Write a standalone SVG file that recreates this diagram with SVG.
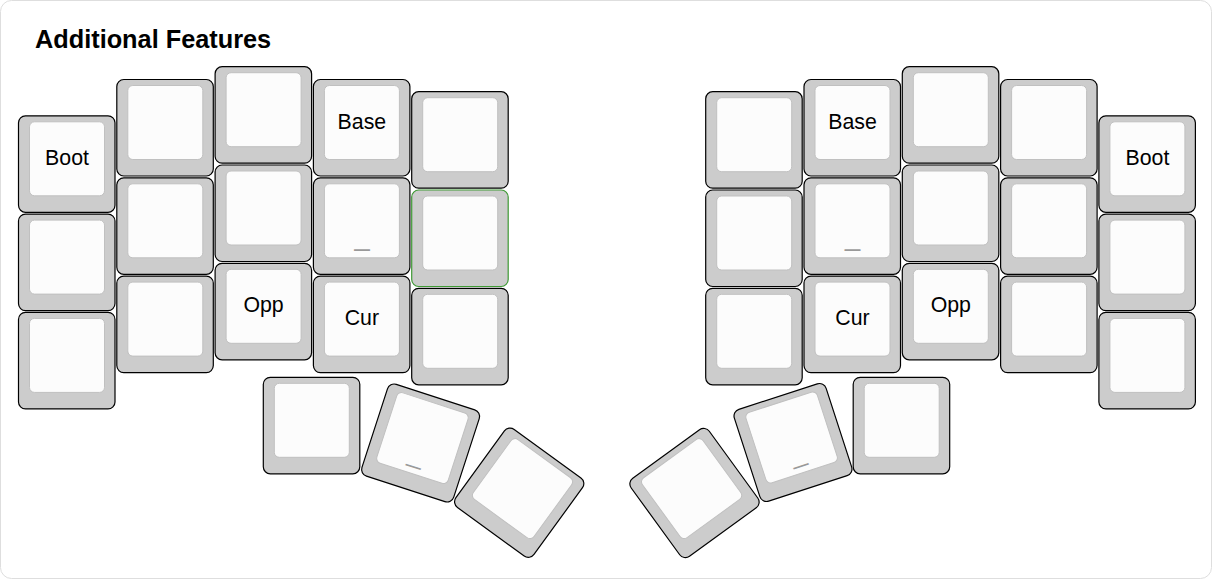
<svg xmlns="http://www.w3.org/2000/svg" width="1212" height="580" viewBox="0 0 1212 580">
<style>
.card{fill:#fff;stroke:#dedede;stroke-width:1}
.title{font-family:"Liberation Sans",Arial,Helvetica,sans-serif;font-weight:bold;font-size:25.3px;fill:#000}
.key{fill:#cccccc;stroke:#000;stroke-width:1.2}
.key.hl{stroke:#3f9a35}
.face{fill:#fcfcfc;stroke:#c0c0c0;stroke-width:1}
.lbl{font-family:"Liberation Sans",Arial,Helvetica,sans-serif;font-size:21.3px;fill:#000;text-anchor:middle}
.hold{font-family:"Liberation Sans",Arial,Helvetica,sans-serif;font-size:16px;font-weight:bold;fill:#999;text-anchor:middle}
</style>
<defs>
<rect id="kb" class="key" x="0" y="0" width="96.5" height="96.5" rx="7"/>
<rect id="kf" class="face" x="11" y="6" width="75" height="74" rx="5"/>
</defs>
<rect class="card" x="0.5" y="0.5" width="1211" height="578" rx="11"/>
<text class="title" x="35" y="48">Additional Features</text>

<g id="left-hand">
<g id="L-c0r0" transform="translate(18.5,115.8)"><use href="#kb"/><use href="#kf"/><text class="lbl" x="48.5" y="49">Boot</text></g>
<g id="L-c0r1" transform="translate(18.5,214.1)"><use href="#kb"/><use href="#kf"/></g>
<g id="L-c0r2" transform="translate(18.5,312.4)"><use href="#kb"/><use href="#kf"/></g>
<g id="L-c1r0" transform="translate(116.8,79.5)"><use href="#kb"/><use href="#kf"/></g>
<g id="L-c1r1" transform="translate(116.8,177.8)"><use href="#kb"/><use href="#kf"/></g>
<g id="L-c1r2" transform="translate(116.8,276.1)"><use href="#kb"/><use href="#kf"/></g>
<g id="L-c2r0" transform="translate(215.1,66.7)"><use href="#kb"/><use href="#kf"/></g>
<g id="L-c2r1" transform="translate(215.1,165)"><use href="#kb"/><use href="#kf"/></g>
<g id="L-c2r2" transform="translate(215.1,263.3)"><use href="#kb"/><use href="#kf"/><text class="lbl" x="48.5" y="49">Opp</text></g>
<g id="L-c3r0" transform="translate(313.4,79.5)"><use href="#kb"/><use href="#kf"/><text class="lbl" x="48.5" y="49">Base</text></g>
<g id="L-c3r1" transform="translate(313.4,177.8)"><use href="#kb"/><use href="#kf"/><text class="hold" x="48.5" y="77.5">—</text></g>
<g id="L-c3r2" transform="translate(313.4,276.1)"><use href="#kb"/><use href="#kf"/><text class="lbl" x="48.5" y="49">Cur</text></g>
<g id="L-c4r0" transform="translate(411.7,91.7)"><use href="#kb"/><use href="#kf"/></g>
<g id="L-c4r2" transform="translate(411.7,288.3)"><use href="#kb"/><use href="#kf"/></g>
<g id="L-c4r1" transform="translate(411.7,190)"><rect class="key hl" x="0" y="0" width="96.5" height="96.5" rx="7"/><use href="#kf"/></g>
<g id="L-t1" transform="translate(263.3,377.3)"><use href="#kb"/><use href="#kf"/></g>
<g id="L-t2" transform="translate(420.6,443) rotate(18) translate(-48.25,-48.25)"><use href="#kb"/><use href="#kf"/><text class="hold" x="48.5" y="77.5">—</text></g>
<g id="L-t3" transform="translate(519.2,492.7) rotate(36) translate(-48.25,-48.25)"><use href="#kb"/><use href="#kf"/></g>
</g>

<g id="right-hand">
<g id="R-c5r0" transform="translate(705.7,91.7)"><use href="#kb"/><use href="#kf"/></g>
<g id="R-c5r1" transform="translate(705.7,190)"><use href="#kb"/><use href="#kf"/></g>
<g id="R-c5r2" transform="translate(705.7,288.3)"><use href="#kb"/><use href="#kf"/></g>
<g id="R-c6r0" transform="translate(804,79.5)"><use href="#kb"/><use href="#kf"/><text class="lbl" x="48.5" y="49">Base</text></g>
<g id="R-c6r1" transform="translate(804,177.8)"><use href="#kb"/><use href="#kf"/><text class="hold" x="48.5" y="77.5">—</text></g>
<g id="R-c6r2" transform="translate(804,276.1)"><use href="#kb"/><use href="#kf"/><text class="lbl" x="48.5" y="49">Cur</text></g>
<g id="R-c7r0" transform="translate(902.3,66.7)"><use href="#kb"/><use href="#kf"/></g>
<g id="R-c7r1" transform="translate(902.3,165)"><use href="#kb"/><use href="#kf"/></g>
<g id="R-c7r2" transform="translate(902.3,263.3)"><use href="#kb"/><use href="#kf"/><text class="lbl" x="48.5" y="49">Opp</text></g>
<g id="R-c8r0" transform="translate(1000.6,79.5)"><use href="#kb"/><use href="#kf"/></g>
<g id="R-c8r1" transform="translate(1000.6,177.8)"><use href="#kb"/><use href="#kf"/></g>
<g id="R-c8r2" transform="translate(1000.6,276.1)"><use href="#kb"/><use href="#kf"/></g>
<g id="R-c9r0" transform="translate(1098.9,115.8)"><use href="#kb"/><use href="#kf"/><text class="lbl" x="48.5" y="49">Boot</text></g>
<g id="R-c9r1" transform="translate(1098.9,214.1)"><use href="#kb"/><use href="#kf"/></g>
<g id="R-c9r2" transform="translate(1098.9,312.4)"><use href="#kb"/><use href="#kf"/></g>
<g id="R-t1" transform="translate(853.2,377.3)"><use href="#kb"/><use href="#kf"/></g>
<g id="R-t2" transform="translate(793,442.5) rotate(-18) translate(-48.25,-48.25)"><use href="#kb"/><use href="#kf"/><text class="hold" x="48.5" y="77.5">—</text></g>
<g id="R-t3" transform="translate(694.5,493) rotate(-36) translate(-48.25,-48.25)"><use href="#kb"/><use href="#kf"/></g>
</g>
</svg>
